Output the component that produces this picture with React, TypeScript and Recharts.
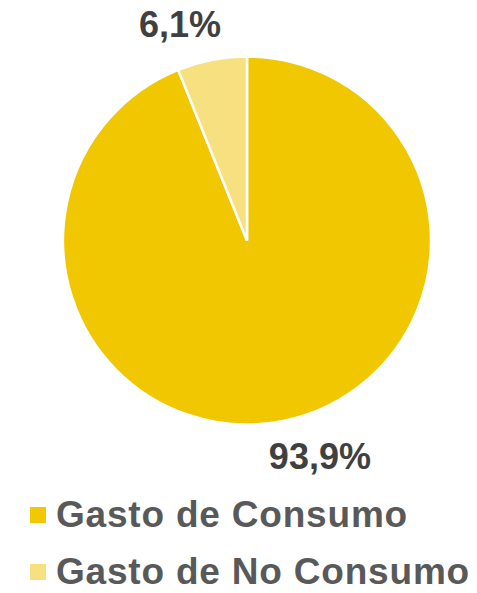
import React from 'react';
import { PieChart, Pie, Cell, Legend } from 'recharts';

const categories = ['Gasto de Consumo', 'Gasto de No Consumo'];
const shares = [93.9, 6.1];
const colors = ['#F0C700', '#F7E080'];
const labelShift = [31, -25];

const data = categories.map((name, i) => ({ name, value: shares[i] }));

const RADIAN = Math.PI / 180;

const renderLabel = (props: any) => {
  const { cx, cy, midAngle, outerRadius, index, value } = props;
  const r = outerRadius + 36;
  const x = cx + r * Math.cos(-midAngle * RADIAN) + labelShift[index];
  const y = cy + r * Math.sin(-midAngle * RADIAN);
  return (
    <text
      x={x}
      y={y}
      textAnchor="middle"
      dominantBaseline="central"
      fill="#404040"
      fontFamily="'Liberation Sans', Arial, sans-serif"
      fontWeight="bold"
      fontSize={36}
    >
      {`${Number(value).toFixed(1).replace('.', ',')}%`}
    </text>
  );
};

const renderLegend = (props: any) => {
  const { payload } = props;
  return (
    <div>
      {(payload || []).map((entry: any, i: number) => (
        <div
          key={i}
          style={{
            display: 'flex',
            alignItems: 'center',
            height: 30,
            lineHeight: '30px',
            marginBottom: i === 0 ? 27 : 0,
          }}
        >
          <span
            style={{
              display: 'inline-block',
              width: 16,
              height: 16,
              background: entry.color,
              marginRight: 10,
            }}
          />
          <span
            style={{
              fontFamily: "'Liberation Sans', Arial, sans-serif",
              fontWeight: 'bold',
              fontSize: 37,
              letterSpacing: 0.8,
              color: '#595959',
              whiteSpace: 'nowrap',
            }}
          >
            {entry.value}
          </span>
        </div>
      ))}
    </div>
  );
};

export default function App() {
  return (
    <div style={{ position: 'absolute', left: 0, top: 0, background: '#fff' }}>
      <PieChart width={477} height={593} margin={{ top: 0, right: 0, bottom: 0, left: 0 }}>
        <Pie
          data={data}
          dataKey="value"
          nameKey="name"
          cx={247}
          cy={240.5}
          outerRadius={184}
          startAngle={90}
          endAngle={-270}
          stroke="#ffffff"
          strokeWidth={2.5}
          label={renderLabel}
          labelLine={false}
          isAnimationActive={false}
        >
          {data.map((d, i) => (
            <Cell key={d.name} fill={colors[i]} />
          ))}
        </Pie>
        <Legend
          content={renderLegend}
          wrapperStyle={{ position: 'absolute', left: 30, top: 500, width: 447 }}
        />
      </PieChart>
    </div>
  );
}
